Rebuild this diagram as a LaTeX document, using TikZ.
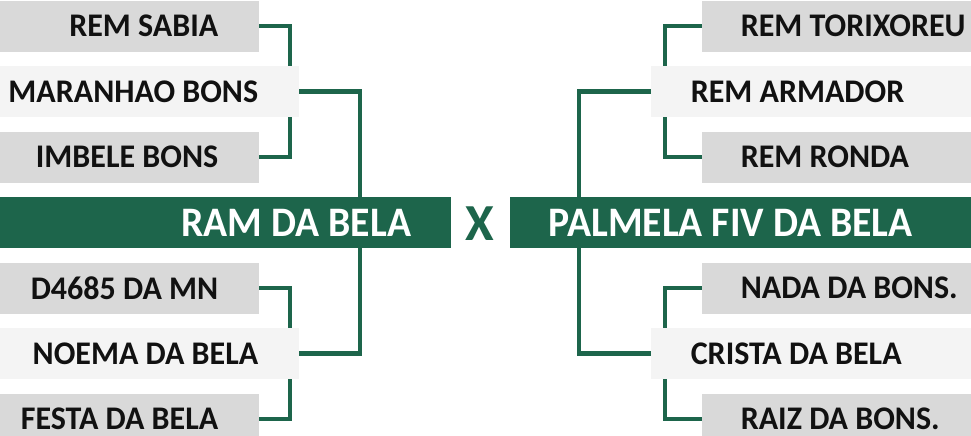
\documentclass[tikz,border=0pt]{standalone}
\usepackage{fontspec}
\setmainfont{Carlito}
\newfontfamily\mainbold[FakeStretch=0.945]{Carlito}
\newfontfamily\namebold[FakeStretch=0.97]{Carlito}
\definecolor{dg}{HTML}{1D654B}
\definecolor{boxa}{HTML}{D9D9D9}
\definecolor{boxb}{HTML}{F4F4F4}
\definecolor{ink}{HTML}{111111}
\tikzset{
  box/.style={inner sep=0pt, minimum height=51pt, anchor=north west},
  gbox/.style={box, fill=boxa},
  wbox/.style={box, fill=boxb},
  mbox/.style={box, fill=dg},
  txt/.style={inner sep=0pt, text=ink, font=\namebold\bfseries\fontsize{33}{36}\selectfont},
  ltxt/.style={txt, anchor=east},
  rtxt/.style={txt, anchor=west},
  mtxt/.style={inner sep=0pt, text=white, font=\mainbold\bfseries\fontsize{42}{46}\selectfont},
  xtxt/.style={inner sep=0pt, text=dg, font=\bfseries\fontsize{52}{56}\selectfont},
  conn/.style={draw=dg, line width=4.5pt, line join=miter}
}
\begin{document}
\begin{tikzpicture}[x=1pt,y=-1pt]
\useasboundingbox (0,0) rectangle (971,436);
\clip (0,0) rectangle (971,436);
% left boxes
\node[gbox, minimum width=259pt] (l1) at (0,0.5) {};
\node[wbox, minimum width=299pt] (l2) at (0,66) {};
\node[gbox, minimum width=259pt] (l3) at (0,131.5) {};
\node[mbox, minimum width=451pt] (lm) at (0,197) {};
\node[gbox, minimum width=259pt] (l4) at (0,262.5) {};
\node[wbox, minimum width=299pt] (l5) at (0,328) {};
\node[gbox, minimum width=259pt] (l6) at (0,393.5) {};
% right boxes
\node[gbox, anchor=north east, minimum width=269pt] (r1) at (971,0.5) {};
\node[wbox, anchor=north east, minimum width=320pt] (r2) at (971,66) {};
\node[gbox, anchor=north east, minimum width=269pt] (r3) at (971,131.5) {};
\node[mbox, anchor=north east, minimum width=461pt] (rm) at (971,197) {};
\node[gbox, anchor=north east, minimum width=269pt] (r4) at (971,262.5) {};
\node[wbox, anchor=north east, minimum width=320pt] (r5) at (971,328) {};
\node[gbox, anchor=north east, minimum width=269pt] (r6) at (971,393.5) {};
% texts
\node[ltxt] (l1t) at ([xshift=-41pt]l1.east) {REM SABIA};
\node[ltxt] (l2t) at ([xshift=-41pt]l2.east) {MARANHAO BONS};
\node[ltxt] (l3t) at ([xshift=-41pt]l3.east) {IMBELE BONS};
\node[ltxt] (l4t) at ([xshift=-41pt]l4.east) {D4685 DA MN};
\node[ltxt] (l5t) at ([xshift=-41pt]l5.east) {NOEMA DA BELA};
\node[ltxt] (l6t) at ([xshift=-41pt]l6.east) {FESTA DA BELA};
\node[rtxt] (r1t) at ([xshift=39pt]r1.west) {REM TORIXOREU};
\node[rtxt] (r2t) at ([xshift=40pt]r2.west) {REM ARMADOR};
\node[rtxt] (r3t) at ([xshift=39pt]r3.west) {REM RONDA};
\node[rtxt] (r4t) at ([xshift=39pt]r4.west) {NADA DA BONS.};
\node[rtxt] (r5t) at ([xshift=40pt]r5.west) {CRISTA DA BELA};
\node[rtxt] (r6t) at ([xshift=39pt]r6.west) {RAIZ DA BONS.};
\node[mtxt, anchor=east] (lmt) at ([xshift=-40pt]lm.east) {RAM DA BELA};
\node[mtxt, anchor=west] (rmt) at ([xshift=39pt]rm.west) {PALMELA FIV DA BELA};
\node[xtxt] (vs) at (479.5,223.5) {X};
% connector columns
\coordinate (xa) at (290,0);
\coordinate (xb) at (360,0);
\coordinate (xc) at (665,0);
\coordinate (xd) at (579,0);
% left connectors
\draw[conn] (l1.east) -| (xa |- l2.north);
\draw[conn] (l3.east) -| (xa |- l2.south);
\draw[conn] (l2.east) -| (xb |- lm.north);
\draw[conn] (l4.east) -| (xa |- l5.north);
\draw[conn] (l6.east) -| (xa |- l5.south);
\draw[conn] (l5.east) -| (xb |- lm.south);
% right connectors
\draw[conn] (r1.west) -| (xc |- r2.north);
\draw[conn] (r3.west) -| (xc |- r2.south);
\draw[conn] (r2.west) -| (xd |- rm.north);
\draw[conn] (r4.west) -| (xc |- r5.north);
\draw[conn] (r6.west) -| (xc |- r5.south);
\draw[conn] (r5.west) -| (xd |- rm.south);
\end{tikzpicture}
\end{document}
